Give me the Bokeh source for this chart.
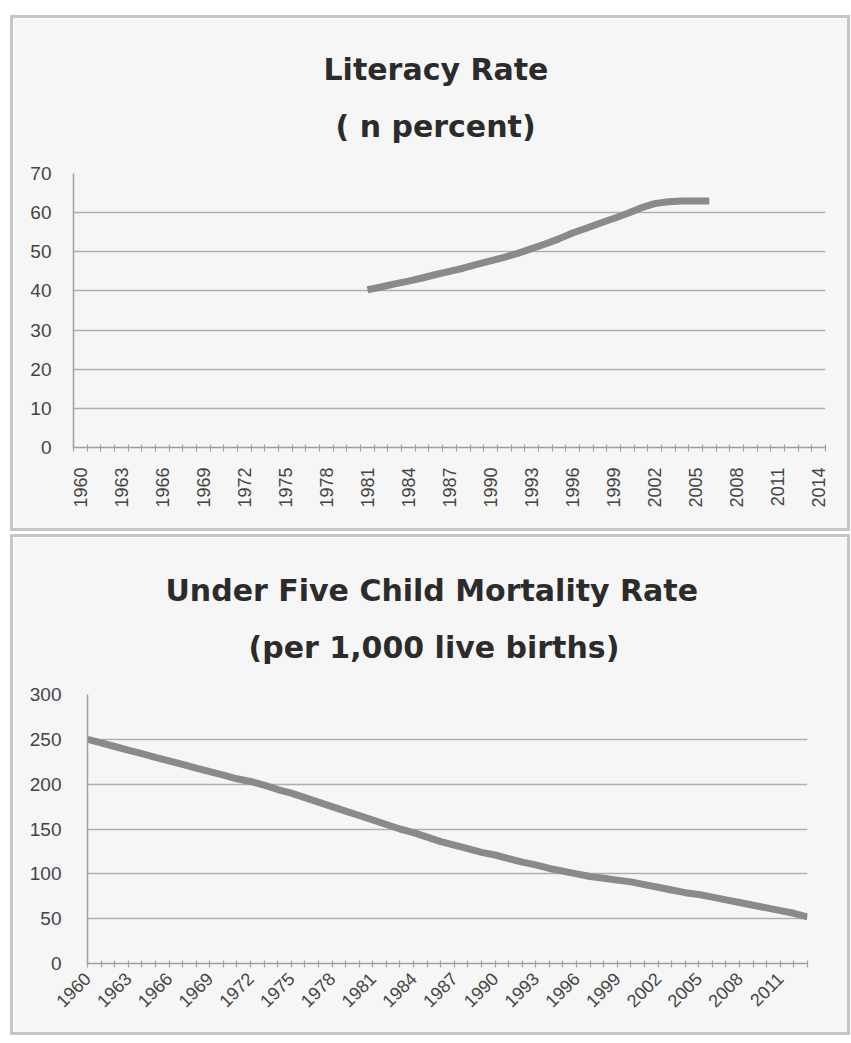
from bokeh.plotting import figure
from bokeh.models import Range1d, FixedTicker, Title
from bokeh.embed import file_html
from bokeh.resources import INLINE
import math

# ---- data ----
lit_years = list(range(1981, 2007))
lit_values = [40.3, 41.0, 41.8, 42.5, 43.3, 44.2, 45.0, 45.8, 46.8, 47.7,
              48.6, 49.6, 50.8, 52.0, 53.3, 54.8, 56.0, 57.3, 58.5, 59.8,
              61.2, 62.3, 62.8, 63.0, 63.0, 63.0]
lit_tick_years = list(range(1960, 2015, 3))
lit_yticks = [0, 10, 20, 30, 40, 50, 60, 70]

mort_years = list(range(1960, 2014))
mort_values = [250, 246, 242, 238, 234, 230, 226, 222, 218, 214,
               210, 206, 203, 199, 194, 190, 185, 180, 175, 170,
               165, 160, 155, 150, 146, 141, 136, 132, 128, 124,
               121, 117, 113, 110, 106, 103, 100, 97, 95, 93,
               91, 88, 85, 82, 79, 77, 74, 71, 68, 65,
               62, 59, 56, 52]
mort_tick_years = list(range(1960, 2012, 3))
mort_yticks = [0, 50, 100, 150, 200, 250, 300]

title1_lines = ["Literacy Rate", "( n percent)"]
title2_lines = ["Under Five Child Mortality Rate", "(per 1,000 live births)"]

BG = "#f6f6f6"
LINE = "#8a8a8a"
GRID = "#b0b0b0"
AXIS = "#a0a0a0"
TXT = "#444444"
PANEL_STYLE = {"border": "3px solid #c6c6c6"}


def add_titles(p, lines, offsets, standoffs):
    # first added sits closest to the frame
    sub = Title(text=lines[1], align="left", offset=offsets[1], standoff=standoffs[1],
                text_font="DejaVu Sans", text_font_style="bold",
                text_font_size="30px", text_color="#2b2b2b", text_line_height=1.0)
    main = Title(text=lines[0], align="left", offset=offsets[0], standoff=standoffs[0],
                 text_font="DejaVu Sans", text_font_style="bold",
                 text_font_size="30px", text_color="#2b2b2b", text_line_height=1.0)
    p.add_layout(sub, "above")
    p.add_layout(main, "above")


def style(p):
    p.background_fill_color = BG
    p.border_fill_color = BG
    p.outline_line_color = None
    p.xgrid.grid_line_color = None
    p.ygrid.grid_line_color = GRID
    p.ygrid.grid_line_width = 1.6
    for ax in (p.xaxis[0], p.yaxis[0]):
        ax.axis_line_color = AXIS
        ax.axis_line_width = 1.5
        ax.major_label_text_color = TXT
        ax.major_label_text_font = "Liberation Sans"
        ax.major_label_text_font_size = "18px"
    p.yaxis[0].major_label_text_font_size = "19px"
    p.yaxis[0].major_tick_line_color = None
    p.yaxis[0].minor_tick_line_color = None
    p.xaxis[0].major_tick_line_color = None
    p.xaxis[0].minor_tick_line_color = AXIS
    p.xaxis[0].minor_tick_in = 3
    p.xaxis[0].minor_tick_out = 4
    p.xaxis[0].minor_tick_line_width = 1.2


# ---- top chart ----
p1 = figure(width=840, height=516, x_range=Range1d(1959.5, 2014.5),
            y_range=Range1d(0, 70), output_backend="svg", title=None,
            toolbar_location=None, min_border_left=60, min_border_right=28,
            min_border_top=155, min_border_bottom=87,
            margin=(15, 0, 0, 10), styles=PANEL_STYLE)
style(p1)
add_titles(p1, title1_lines, (250, 262), (-20, 60))
p1.xaxis[0].ticker = FixedTicker(ticks=lit_tick_years,
                                 minor_ticks=[y - 0.5 for y in range(1960, 2016)])
p1.xaxis[0].major_label_orientation = math.pi / 2
p1.xaxis[0].major_label_standoff = 14
p1.yaxis[0].major_label_standoff = 16
p1.yaxis[0].ticker = FixedTicker(ticks=lit_yticks)
p1.line(lit_years, lit_values, line_width=7, line_color=LINE, line_join="round")

# ---- bottom chart ----
p2 = figure(width=840, height=501, x_range=Range1d(1960, 2013),
            y_range=Range1d(0, 300), output_backend="svg", title=None,
            toolbar_location=None, min_border_left=74, min_border_right=46,
            min_border_top=157, min_border_bottom=75,
            margin=(3, 0, 0, 10), styles=PANEL_STYLE)
style(p2)
add_titles(p2, title2_lines, (78, 161), (-20, 60))
p2.xaxis[0].ticker = FixedTicker(ticks=mort_tick_years,
                                 minor_ticks=list(range(1960, 2014)))
p2.xaxis[0].major_label_orientation = math.pi / 4
p2.xaxis[0].major_label_standoff = 6
p2.yaxis[0].major_label_standoff = 20
p2.yaxis[0].ticker = FixedTicker(ticks=mort_yticks)
p2.line(mort_years, mort_values, line_width=7, line_color=LINE, line_join="round")

open("out.html", "w").write(file_html([p1, p2], INLINE))
